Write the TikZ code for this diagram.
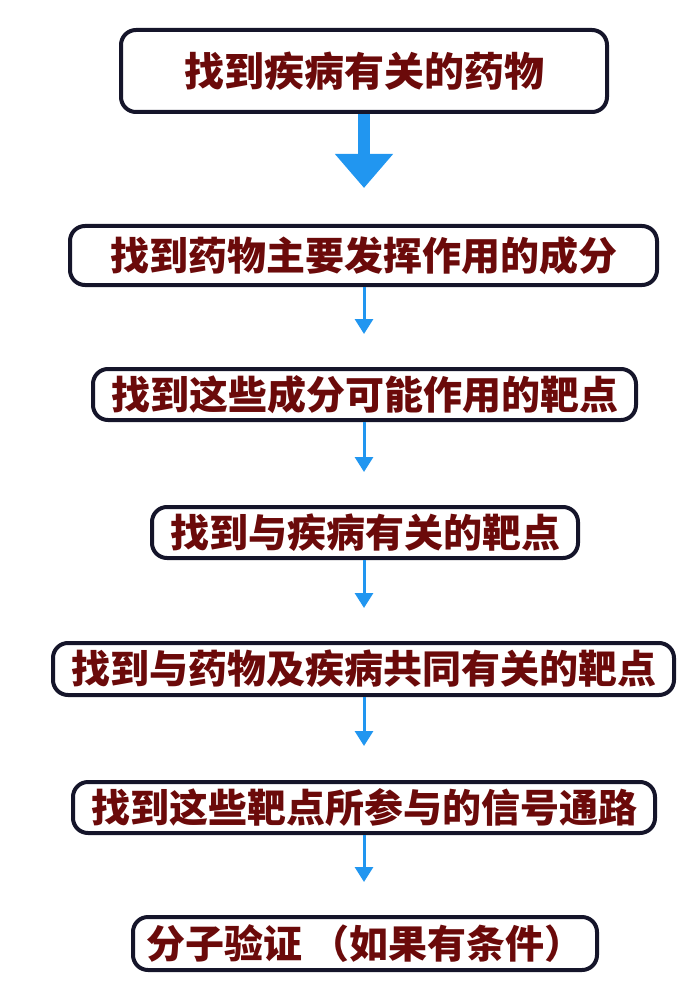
\documentclass[tikz,border=0pt]{standalone}
\usepackage{fontspec}
\newfontfamily\cjk{Noto Sans CJK SC}
\usetikzlibrary{arrows.meta}
\definecolor{textred}{HTML}{6B0A0A}
\definecolor{arrowblue}{HTML}{2196F0}
\definecolor{boxline}{HTML}{15152A}

\begin{document}
\begin{tikzpicture}[x=1pt, y=-1pt,
    stepbox/.style={draw=boxline, line width=4pt, rounded corners=15pt, fill=white,
        text=textred, font=\cjk\bfseries\fontsize{39}{44}\selectfont, align=center, inner sep=0pt},
    thinarrow/.style={draw=arrowblue, line width=3pt, -{Triangle[width=18pt,length=15pt]}},
    bigarrow/.style={draw=arrowblue, line width=12pt, -{Triangle[width=56pt,length=34pt]}}]
    % 画面の大きさ
    \useasboundingbox (0,0) rectangle (700,1000);
    % 各ステップの枠
    \node[stepbox, minimum width=486pt, minimum height=82pt, font=\cjk\bfseries\fontsize{40}{46}\selectfont] (drug) at (364,71) {找到疾病有关的药物};
    \node[stepbox, minimum width=587pt, minimum height=59pt] (comp) at (363.5,255.5) {找到药物主要发挥作用的成分};
    \node[stepbox, minimum width=543pt, minimum height=51pt] (ctarget) at (364.5,394.5) {找到这些成分可能作用的靶点};
    \node[stepbox, minimum width=426pt, minimum height=51pt] (dtarget) at (365,532.5) {找到与疾病有关的靶点};
    \node[stepbox, minimum width=621pt, minimum height=52pt] (common) at (363.5,669) {找到与药物及疾病共同有关的靶点};
    \node[stepbox, minimum width=582pt, minimum height=51pt] (path) at (364,807.5) {找到这些靶点所参与的信号通路};
    \node[stepbox, minimum width=464pt, minimum height=53pt] (verify) at (365,943.5) {分子验证 （如果有条件）};
    % 矢印
    \draw[bigarrow] (drug.south) -- ([yshift=36pt]comp.north -| drug.south);
    \draw[thinarrow] (comp.south -| drug.south) -- ([yshift=33pt]ctarget.north -| drug.south);
    \draw[thinarrow] (ctarget.south -| drug.south) -- ([yshift=33pt]dtarget.north -| drug.south);
    \draw[thinarrow] (dtarget.south -| drug.south) -- ([yshift=33pt]common.north -| drug.south);
    \draw[thinarrow] (common.south -| drug.south) -- ([yshift=34pt]path.north -| drug.south);
    \draw[thinarrow] (path.south -| drug.south) -- ([yshift=33pt]verify.north -| drug.south);
\end{tikzpicture}
\end{document}
